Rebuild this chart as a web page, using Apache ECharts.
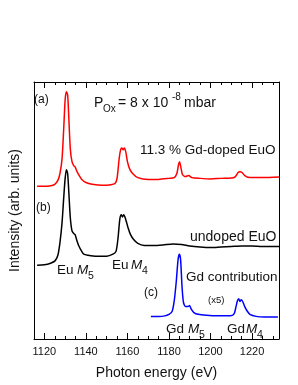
<!DOCTYPE html>
<html>
<head>
<meta charset="utf-8">
<script src="https://cdn.jsdelivr.net/npm/echarts@6/dist/echarts.min.js"></script>
<style>
html,body{margin:0;padding:0;background:#fff;}
#chart{width:298px;height:385px;}
</style>
</head>
<body>
<div id="chart"></div>
<script>
// (a) 11.3 % Gd-doped EuO (red)
var energyA = [1116.5,1120,1123,1125,1126.5,1127.5,1128.5,1129.3,1130,1130.6,1131.2,1131.8,1132.5,1133.3,1134.2,1134.8,1135.5,1136.5,1138,1140,1143,1148,1152,1154,1155,1156,1156.7,1157.3,1157.9,1158.5,1159.2,1160,1161,1162.5,1165,1170,1175,1180,1182.5,1183.8,1184.6,1185.1,1185.7,1186.5,1188,1189.5,1191,1195,1200,1205,1210,1212,1213.3,1214.2,1215.2,1216.5,1219,1225,1233];
var intensityA = [5.94,5.94,5.96,6.02,6.17,6.44,7.01,8.16,9.31,9.62,9.50,8.54,7.39,6.90,6.74,6.70,6.55,6.40,6.21,6.09,6.02,5.98,6.00,6.05,6.25,7.01,7.36,7.43,7.36,7.43,7.28,6.90,6.63,6.44,6.28,6.21,6.21,6.25,6.28,6.44,6.78,6.90,6.70,6.40,6.32,6.36,6.28,6.25,6.23,6.25,6.26,6.32,6.48,6.51,6.48,6.36,6.28,6.28,6.30];

// (b) undoped EuO (black)
var energyB = [1116.5,1120,1123,1125,1126.5,1127.5,1128.5,1129.3,1130,1130.6,1131.2,1131.8,1132.5,1133.3,1134.2,1134.8,1135.5,1136.5,1138,1139,1141,1145,1150,1153,1154.5,1155.5,1156.3,1157,1157.6,1158.2,1158.8,1159.5,1160.3,1161.5,1163,1165,1168,1172,1177,1182,1186,1190,1195,1200,1205,1210,1215,1220,1225,1233];
var intensityB = [2.87,2.89,2.95,3.03,3.26,3.75,4.52,5.48,6.25,6.59,6.44,5.67,4.71,4.21,4.10,4.06,3.87,3.64,3.41,3.30,3.26,3.22,3.22,3.30,3.41,3.95,4.64,4.83,4.75,4.83,4.75,4.56,4.33,4.06,3.87,3.72,3.64,3.64,3.66,3.70,3.68,3.62,3.58,3.56,3.58,3.60,3.62,3.62,3.60,3.60];

// (c) Gd contribution (blue)
var energyC = [1171.3,1175,1178,1180,1181.5,1182.5,1183.5,1184.4,1185,1185.6,1186.3,1187,1188,1189.2,1189.9,1190.8,1192,1194,1198,1204,1208,1210.5,1211.5,1212.3,1213,1213.6,1214.2,1214.8,1215.5,1216.5,1217.5,1219,1222,1226,1232.5];
var intensityC = [0.88,0.88,0.90,0.96,1.07,1.46,2.22,3.10,3.30,3.10,2.03,1.42,1.26,1.26,1.30,1.15,1.03,0.96,0.92,0.90,0.90,0.92,1.00,1.26,1.49,1.57,1.46,1.53,1.46,1.26,1.11,0.96,0.88,0.86,0.86];

var majorTicks = [1120,1140,1160,1180,1200,1220];

function pairs(xs, ys){ var o=[]; for(var i=0;i<xs.length;i++){o.push([xs[i],ys[i]]);} return o; }

var FONT = '"Liberation Sans", Arial, sans-serif';
var chart = echarts.init(document.getElementById('chart'), null, {renderer:'canvas'});

function txt(x, y, text, size, opts){
  opts = opts || {};
  return {
    type:'text', x:x, y:y, silent:true, z:100,
    style:{
      text:text,
      font:(opts.italic?'italic ':'') + size + 'px ' + FONT,
      fill:'#111',
      textAlign:'left', align:'left',
      textVerticalAlign:'middle', verticalAlign:'middle'
    }
  };
}

var xMin = 1115, xMax = 1233;
var lineAx = {show:true, lineStyle:{color:'#000', width:1}};

var option = {
  animation:false,
  backgroundColor:'#fff',
  grid:{left:30, right:19, top:82, bottom:42, containLabel:false},
  xAxis:[
    {type:'value', position:'bottom', min:xMin, max:xMax, interval:5,
     axisLine:lineAx, axisTick:{show:true, inside:true, length:3, lineStyle:{color:'#000'}},
     axisLabel:{show:false}, splitLine:{show:false}},
    {type:'value', position:'bottom', min:xMin, max:xMax,
     axisLine:{show:false},
     axisTick:{show:true, inside:true, length:6, customValues:majorTicks, lineStyle:{color:'#000'}},
     axisLabel:{show:true, customValues:majorTicks, color:'#111', fontSize:11, fontFamily:FONT, margin:7,
                formatter:function(v){ return String(v); }},
     splitLine:{show:false},
     name:'Photon energy (eV)', nameLocation:'middle', nameGap:27,
     nameTextStyle:{color:'#111', fontSize:14, fontFamily:FONT}},
    {type:'value', position:'top', min:xMin, max:xMax, interval:5,
     axisLine:lineAx, axisTick:{show:true, inside:true, length:3, lineStyle:{color:'#000'}},
     axisLabel:{show:false}, splitLine:{show:false}},
    {type:'value', position:'top', min:xMin, max:xMax,
     axisLine:{show:false},
     axisTick:{show:true, inside:true, length:6, customValues:majorTicks, lineStyle:{color:'#000'}},
     axisLabel:{show:false}, splitLine:{show:false}}
  ],
  yAxis:[
    {type:'value', position:'left', min:0, max:10,
     axisLine:lineAx, axisTick:{show:false}, axisLabel:{show:false}, splitLine:{show:false},
     name:'Intensity (arb. units)', nameLocation:'middle', nameGap:12,
     nameTextStyle:{color:'#111', fontSize:14, fontFamily:FONT}},
    {type:'value', position:'right', min:0, max:10,
     axisLine:lineAx, axisTick:{show:false}, axisLabel:{show:false}, splitLine:{show:false}}
  ],
  series:[
    {type:'line', xAxisIndex:0, yAxisIndex:0, data:pairs(energyA,intensityA), showSymbol:false, smooth:0.25,
     lineStyle:{color:'#ff0000', width:1.5}, itemStyle:{color:'#ff0000'}},
    {type:'line', xAxisIndex:0, yAxisIndex:0, data:pairs(energyB,intensityB), showSymbol:false, smooth:0.25,
     lineStyle:{color:'#000000', width:1.5}, itemStyle:{color:'#000000'}},
    {type:'line', xAxisIndex:0, yAxisIndex:0, data:pairs(energyC,intensityC), showSymbol:false, smooth:0.25,
     lineStyle:{color:'#0000ff', width:1.5}, itemStyle:{color:'#0000ff'}}
  ],
  graphic:[
    txt(34, 100, '(a)', 12),
    txt(94, 103, 'P', 14),
    txt(103, 109, 'Ox', 10),
    txt(118, 103, '= 8 x 10', 14),
    txt(172, 97, '-8', 10),
    txt(184, 103, 'mbar', 14),
    txt(140, 150, '11.3 % Gd-doped EuO', 13.5),
    txt(36, 208, '(b)', 12),
    txt(190, 237, 'undoped EuO', 14),
    txt(57, 270, 'Eu', 13.5),
    txt(77, 270, 'M', 13.5, {italic:true}),
    txt(88, 276, '5', 10.5),
    txt(112, 265, 'Eu', 13.5),
    txt(131, 265, 'M', 13.5, {italic:true}),
    txt(142, 271, '4', 10.5),
    txt(186, 277, 'Gd contribution', 13.5),
    txt(144, 293, '(c)', 12),
    txt(208, 300, '(x5)', 9.5),
    txt(166, 329, 'Gd', 13.5),
    txt(188, 329, 'M', 13.5, {italic:true}),
    txt(199, 335, '5', 10.5),
    txt(227, 329, 'Gd', 13.5),
    txt(246, 329, 'M', 13.5, {italic:true}),
    txt(257, 335, '4', 10.5)
  ]
};
chart.setOption(option);
</script>
</body>
</html>
